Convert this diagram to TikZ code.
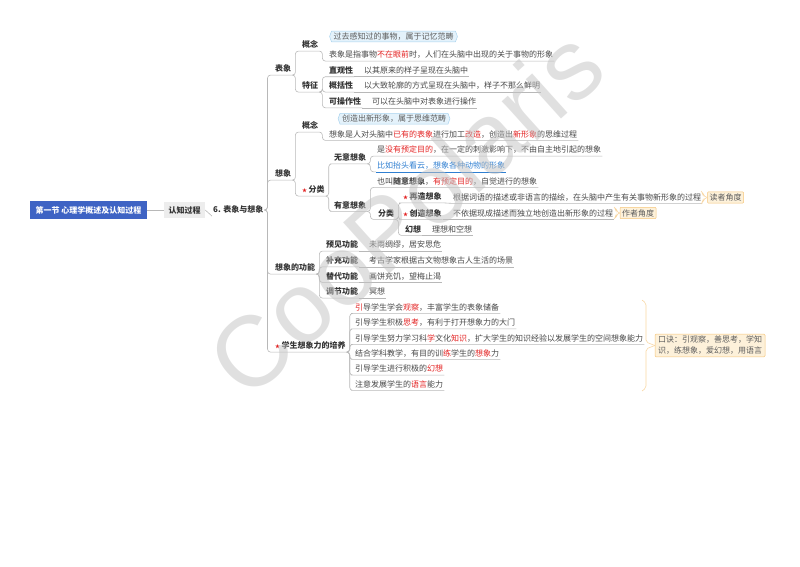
\documentclass[tikz,border=0pt]{standalone}
\usepackage{fontspec}
\setmainfont{Noto Sans CJK SC}
\newfontfamily\wmfont{Liberation Sans}
\usetikzlibrary{shapes.symbols}

\definecolor{inkgray}{HTML}{333333}
\definecolor{linegray}{HTML}{B8B8B8}
\definecolor{hotred}{HTML}{E32222}
\definecolor{skyblue}{HTML}{2F7FD1}
\definecolor{rootblue}{HTML}{3E63C4}
\definecolor{tipfill}{HTML}{E4F2FB}
\definecolor{tipdraw}{HTML}{A9D3EE}
\definecolor{notefill}{HTML}{FDF1DA}
\definecolor{notedraw}{HTML}{F5C57A}

\newcommand{\hot}[1]{\textcolor{hotred}{#1}}
\newcommand{\redstar}{\textcolor{hotred}{\fontsize{5}{5}\selectfont ★}\,}

\tikzset{
  base/.style={anchor=west, inner xsep=1pt, inner ysep=1.8pt, text height=7pt, text depth=1.2pt, text=inkgray, font=\fontsize{8}{10}\selectfont},
  topic/.style={base, font=\fontsize{8}{10}\selectfont\bfseries},
  desc/.style={base, text=inkgray!90},
  link/.style={draw=linegray, line width=.6pt, rounded corners=3pt},
  summ/.style={draw=notedraw!70, line width=.6pt, rounded corners=2pt},
  tip/.style={signal, signal to=west and east, signal pointer angle=140, fill=tipfill, draw=tipdraw, line width=.5pt, text=inkgray!80, font=\fontsize{8}{10}\selectfont, inner xsep=2pt, inner ysep=1.5pt},
  note/.style={fill=notefill, draw=notedraw, line width=.5pt, rounded corners=1pt, text=inkgray!80, font=\fontsize{8}{10}\selectfont, inner sep=2pt},
}

\begin{document}
\begin{tikzpicture}[x=1pt, y=-1pt]
  \useasboundingbox (0,0) rectangle (800,566);

  % root and first levels
  \node[fill=rootblue, text=white, font=\fontsize{8}{10}\selectfont\bfseries, minimum width=117pt, minimum height=18pt, inner sep=0pt] (root) at (88.5, 210) {第一节 心理学概述及认知过程};
  \node[fill=black!7, text=inkgray, font=\fontsize{8}{10}\selectfont\bfseries, minimum width=41pt, minimum height=16pt, inner sep=0pt] (rz) at (184.5, 210) {认知过程};
  \node[topic] (six) at (212, 210) {6. 表象与想象};

  \node[topic] (bx) at (274, 69) {表象};
  \node[topic] (xx) at (274, 174) {想象};
  \node[topic] (gnn) at (274, 268) {想象的功能};
  \node[topic] (py) at (274, 346) {\redstar 学生想象力的培养};

  % biaoxiang
  \node[topic] (gn1) at (301, 45) {概念};
  \node[topic] (tz) at (301, 86) {特征};
  \node[tip] (tip1) at (393.5, 36.5) {过去感知过的事物，属于记忆范畴};
  \node[desc] (def1) at (328, 55) {表象是指事物\hot{不在眼前}时，人们在头脑中出现的关于事物的形象};
  \node[topic] (zg) at (328, 70.6) {直观性};
  \node[desc] (zgd) at (363, 70.6) {以其原来的样子呈现在头脑中};
  \node[topic] (gk) at (328, 86) {概括性};
  \node[desc] (gkd) at (363, 86) {以大致轮廓的方式呈现在头脑中，样子不那么鲜明};
  \node[topic] (kc) at (328, 101.7) {可操作性};
  \node[desc] (kcd) at (371, 101.7) {可以在头脑中对表象进行操作};

  % xiangxiang
  \node[topic] (gn2) at (301, 126) {概念};
  \node[tip] (tip2) at (394, 118.7) {创造出新形象，属于思维范畴};
  \node[desc] (def2) at (328, 134.3) {想象是人对头脑中\hot{已有的表象}进行加工\hot{改造}，创造出\hot{新形象}的思维过程};
  \node[topic] (fl) at (301, 190) {\redstar 分类};
  \node[topic] (wy) at (333, 157.7) {无意想象};
  \node[desc] (wy1) at (376, 150) {是\hot{没有预定目的}，在一定的刺激影响下，不由自主地引起的想象};
  \node[desc, text=skyblue] (wy2) at (376, 165.7) {比如抬头看云，想象各种动物的形象};
  \node[topic] (yy) at (333, 205.3) {有意想象};
  \node[desc] (yy1) at (376, 181.3) {也叫\textbf{随意想象}，\hot{有预定目的}，自觉进行的想象};
  \node[topic] (fl2) at (377, 213.3) {分类};
  \node[topic] (zz) at (402, 196.7) {\redstar 再造想象};
  \node[desc] (zzd) at (452, 197.3) {根据词语的描述或非语言的描绘，在头脑中产生有关事物新形象的过程};
  \node[note] (dz) at (725.5, 197.5) {读者角度};
  \node[topic] (cz) at (402, 213.3) {\redstar 创造想象};
  \node[desc] (czd) at (452, 213.3) {不依据现成描述而独立地创造出新形象的过程};
  \node[note] (zj) at (638, 213) {作者角度};
  \node[topic] (hx) at (404, 229.3) {幻想};
  \node[desc] (hxd) at (431, 229.3) {理想和空想};

  % functions
  \node[topic] (yj) at (325, 245) {预见功能};
  \node[desc] (yjd) at (368, 245) {未雨绸缪，居安思危};
  \node[topic] (bc) at (325, 260.7) {补充功能};
  \node[desc] (bcd) at (368, 260.7) {考古学家根据古文物想象古人生活的场景};
  \node[topic] (td) at (325, 276.3) {替代功能};
  \node[desc] (tdd) at (368, 276.3) {画饼充饥，望梅止渴};
  \node[topic] (tj) at (325, 292) {调节功能};
  \node[desc] (tjd) at (368, 292) {冥想};

  % peiyang
  \node[desc] (p1) at (354, 307.3) {\hot{引}导学生学会\hot{观察}，丰富学生的表象储备};
  \node[desc] (p2) at (354, 322.7) {引导学生积极\hot{思考}，有利于打开想象力的大门};
  \node[desc] (p3) at (354, 338.3) {引导学生努力学习科\hot{学}文化\hot{知识}，扩大学生的知识经验以发展学生的空间想象能力};
  \node[desc] (p4) at (354, 353.3) {结合学科教学，有目的训\hot{练}学生的\hot{想象}力};
  \node[desc] (p5) at (354, 369) {引导学生进行积极的\hot{幻想}};
  \node[desc] (p6) at (354, 384.3) {注意发展学生的\hot{语言}能力};
  \node[note, align=left, font=\fontsize{8}{11}\selectfont, inner xsep=3pt] (kj) at (710, 345.5) {口诀：引观察，善思考，学知\\识，练想象，爱幻想，用语言};

  % connectors
  \draw[link] (root.east) -- (rz.west);
  \draw[link] (rz.east) -- (six.south west);
  \foreach \c in {bx,xx,gnn,py}
    \draw[link] (six.east) -- ++(3,0) |- (\c.south west) -- (\c.south east);
  \foreach \c in {gn1,tz}
    \draw[link] (bx.south east) -- ++(3,0) |- (\c.south west) -- (\c.south east);
  \draw[link] (gn1.south east) -- ++(3,0) |- (def1.south west) -- (def1.south east);
  \foreach \c in {zg,gk,kc}
    \draw[link] (tz.south east) -- ++(3,0) |- (\c.south west) -- (\c.south east);
  \foreach \a/\b in {zg/zgd,gk/gkd,kc/kcd,zz/zzd,cz/czd,hx/hxd,yj/yjd,bc/bcd,td/tdd,tj/tjd}
    \draw[link] (\a.south east) -- (\b.south west) -- (\b.south east);
  \foreach \c in {gn2,fl}
    \draw[link] (xx.south east) -- ++(3,0) |- (\c.south west) -- (\c.south east);
  \draw[link] (gn2.south east) -- ++(3,0) |- (def2.south west) -- (def2.south east);
  \foreach \c in {wy,yy}
    \draw[link] (fl.south east) -- ++(3,0) |- (\c.south west) -- (\c.south east);
  \draw[link] (wy.south east) -- ++(3,0) |- (wy1.south west) -- (wy1.south east);
  \draw[link] (wy.south east) -- ++(3,0) |- (wy2.south west);
  \draw[draw=skyblue, line width=.6pt] (wy2.south west) -- (wy2.south east);
  \foreach \c in {yy1,fl2}
    \draw[link] (yy.south east) -- ++(3,0) |- (\c.south west) -- (\c.south east);
  \foreach \c in {zz,cz,hx}
    \draw[link] (fl2.south east) -- ++(3,0) |- (\c.south west) -- (\c.south east);
  \foreach \c in {yj,bc,td,tj}
    \draw[link] (gnn.south east) -- ++(3,0) |- (\c.south west) -- (\c.south east);
  \foreach \c in {p1,p2,p3,p4,p5,p6}
    \draw[link] (py.south east) -- ++(3,0) |- (\c.south west) -- (\c.south east);

  % summaries
  \draw[summ] (701,191) -- (703,193) -- (703,195.5) -- (dz.west);
  \draw[summ] (dz.west) -- (703,199.5) -- (703,202) -- (701,204);
  \draw[summ] (614,207) -- (616,209) -- (616,211) -- (zj.west);
  \draw[summ] (zj.west) -- (616,215) -- (616,217) -- (614,219);
  \draw[summ] (642,300) -- (646,303) -- (646,342) -- (kj.west);
  \draw[summ] (kj.west) -- (646,349) -- (646,388) -- (642,391);

  % watermark
  \node[rotate=42, text=black!24, text opacity=.5, font=\wmfont\fontsize{100}{100}\selectfont] (wm) at (405, 212) {CooPolaris};
\end{tikzpicture}
\end{document}
